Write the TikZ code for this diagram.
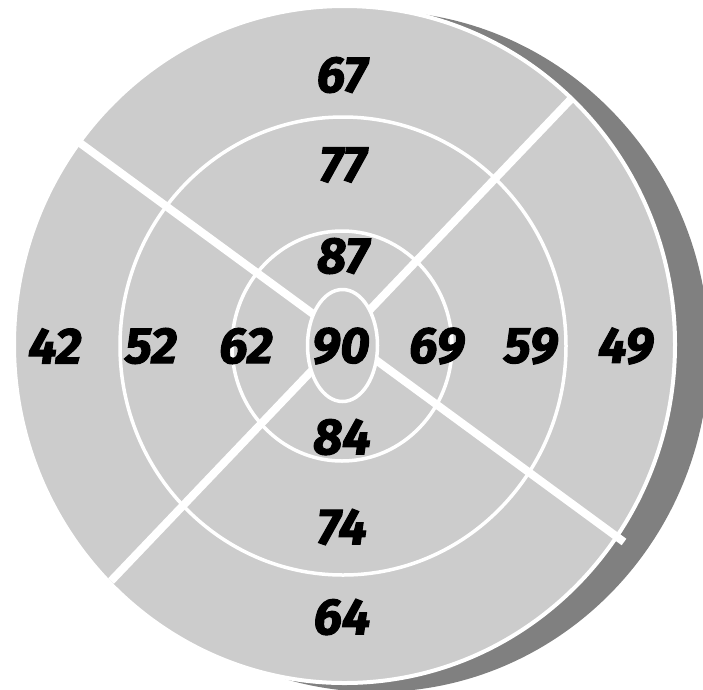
\documentclass[tikz,border=0pt]{standalone}
\usepackage{fontspec}
\setmainfont{Fira Sans}[BoldItalicFeatures={FakeBold=2}]
\definecolor{diskgray}{RGB}{204,204,204}
\definecolor{shadowgray}{RGB}{128,128,128}
\begin{document}
\begin{tikzpicture}[x=1pt,y=-1pt,
  ring/.style={draw=white,line width=3.5pt},
  divider/.style={draw=white,line width=8pt,line cap=butt},
  num/.style={font=\fontsize{51}{51}\selectfont\bfseries\itshape,text=black,inner sep=0pt}]
\useasboundingbox (0,0) rectangle (703,689);
% shadow
\fill[shadowgray] (376.5,351.5) ellipse [x radius=332.5,y radius=340.5];
% disk
\filldraw[fill=diskgray,draw=white,line width=4pt] (344.5,344.5) ellipse [x radius=330.5,y radius=338.5];
% rings
\draw[ring] (343,346) ellipse [x radius=223,y radius=229];
\draw[ring] (342,346) ellipse [x radius=110,y radius=115];
% dividers
\coordinate (a1) at (80,143);
\coordinate (a2) at (624,542);
\coordinate (b1) at (572,98);
\coordinate (b2) at (111,581);
\draw[divider] (a1) -- (a2);
\draw[divider] (b1) -- (b2);
% centre
\filldraw[fill=diskgray,draw=white,line width=3.5pt] (342.5,345.5) ellipse [x radius=35,y radius=56];
% numbers
\node[num] (n67) at (342,75) {67};
\node[num] (n77) at (343,165) {77};
\node[num] (n87) at (343,256) {87};
\node[num] (n90) at (341,346) {90};
\node[num] (n84) at (342,437) {84};
\node[num] (n74) at (342,527) {74};
\node[num] (n64) at (342,617) {64};
\node[num] (n42) at (55,346) {42};
\node[num] (n52) at (151,346) {52};
\node[num] (n62) at (246,346) {62};
\node[num] (n69) at (437,346) {69};
\node[num] (n59) at (531,346) {59};
\node[num] (n49) at (626,346) {49};
\end{tikzpicture}
\end{document}
